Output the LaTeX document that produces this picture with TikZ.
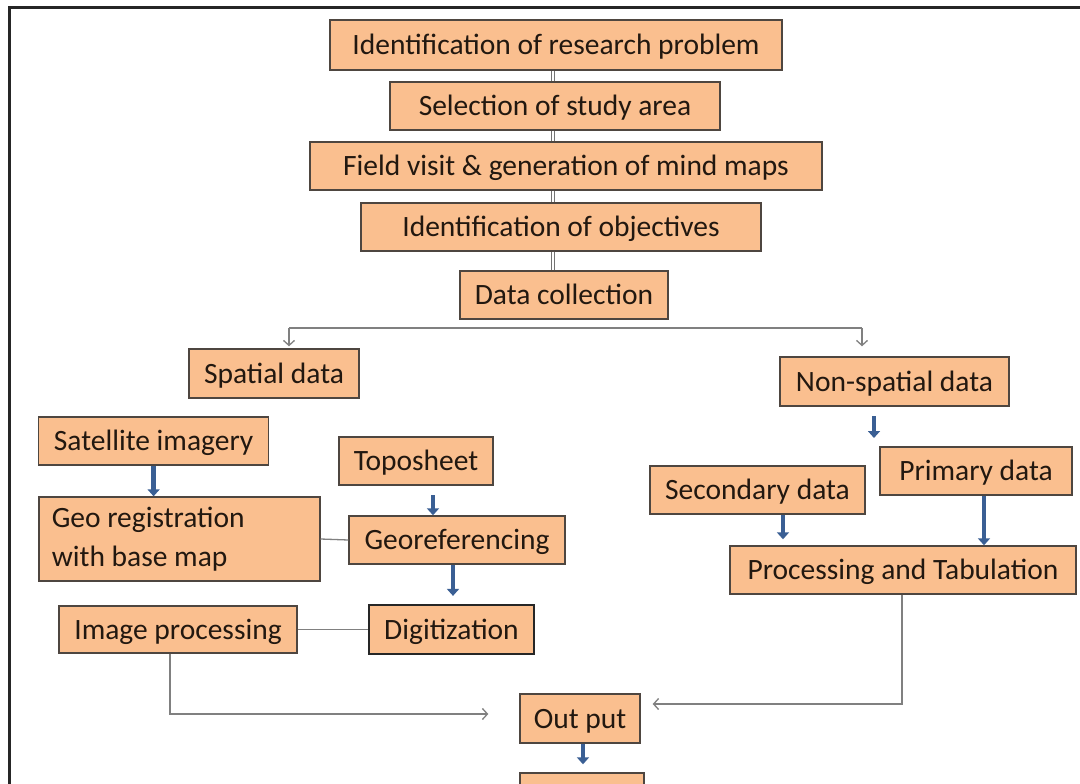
\documentclass[tikz,border=0pt]{standalone}
\usepackage{fontspec}
\setmainfont{Carlito}
\usetikzlibrary{arrows.meta}
\definecolor{boxfill}{RGB}{250,191,143}
\definecolor{boxline}{RGB}{78,70,64}
\definecolor{barrowc}{RGB}{58,95,148}
\definecolor{glinec}{RGB}{128,128,128}
\definecolor{txt}{RGB}{34,24,16}
\begin{document}
\begin{tikzpicture}[x=1pt,y=-1pt,
  box/.style={draw=boxline, line width=1.4pt, fill=boxfill, text=txt, inner sep=0pt,
    font=\fontsize{29.5}{36}\selectfont, text height=24pt, text depth=5pt},
  bx/.style 2 args={minimum width=#1pt, minimum height=#2pt},
  twoline/.style={draw=boxline, line width=1.4pt, fill=boxfill, text=txt, inner xsep=13pt, inner ysep=0pt,
    font=\fontsize{29.5}{36}\selectfont, align=left},
  strongbox/.style={box, draw=black!85, line width=2.2pt},
  dbl/.style={draw=black!55, line width=0.6pt, double=white, double distance=2pt},
  barrow/.style={draw=barrowc, line width=4.5pt, -{Triangle[width=12pt,length=7pt]}},
  glink/.style={draw=glinec, line width=1.3pt},
  garrow/.style={glink, -{Straight Barb[length=5pt,width=11pt]}}
]
\clip (0,0) rectangle (1080,784);
\fill[white] (0,0) rectangle (1080,784);
% frame
\draw[line width=2.5pt, black!85] (9.5,800) -- (9.5,7.3) -- (1100,7.3);

% main chain
\node[box, bx={452}{50}] (b1) at (556,45) {Identification of research problem};
\node[box, bx={330}{48}] (b2) at (555,106) {Selection of study area};
\node[box, bx={512}{48}] (b3) at (566,166) {Field visit \& generation of mind maps};
\node[box, bx={400}{48}] (b4) at (561,227) {Identification of objectives};
\node[box, bx={208}{48}] (b5) at (564,295) {Data collection};

\coordinate (c) at (553,0);
\draw[dbl] (b1.south -| c) -- (b2.north -| c);
\draw[dbl] (b2.south -| c) -- (b3.north -| c);
\draw[dbl] (b3.south -| c) -- (b4.north -| c);
\draw[dbl] (b4.south -| c) -- (b5.north -| c);

% branch
\node[box, bx={170}{49}] (sp) at (274,373.5) {Spatial data};
\node[box, bx={229}{49}] (ns) at (894.5,381.5) {Non-spatial data};
\coordinate (bl) at (289,328);
\coordinate (br) at (862,328);
\draw[glink] (bl) -- (br);
\draw[garrow, shorten >=2pt] (bl) -- (bl |- sp.north);
\draw[garrow, shorten >=10pt] (br) -- (br |- ns.north);

% spatial side
\node[box, bx={230}{48}] (sat) at (153.6,441) {Satellite imagery};
\node[twoline, text width=255pt, minimum height=84pt] (geo) at (179.3,539) {\spaceskip=0pt\relax\vspace{3pt}Geo registration\\with base map};
\node[box, bx={154}{48}] (topo) at (416,461) {Toposheet};
\node[box, bx={216}{48}] (georef) at (457,540) {Georeferencing};
\node[strongbox, bx={165}{49}] (dig) at (451.5,629.5) {Digitization};
\node[box, bx={238}{47}] (ip) at (178,629.5) {Image processing};

\draw[barrow] (sat.south) -- (sat.south |- geo.north);
\coordinate (ta) at (433,495);
\draw[barrow] (ta) -- (ta |- georef.north);
\coordinate (ga) at (453,0);
\draw[barrow, shorten >=8pt] (georef.south -| ga) -- (dig.north -| ga);
\draw[glink] (geo.east) -- (georef.west);
\draw[glink] (ip.east) -- (dig.west);

% non-spatial side
\node[box, bx={215}{48}] (sec) at (757.5,490) {Secondary data};
\node[box, bx={192}{48}] (prim) at (976,471) {Primary data};
\node[box, bx={346}{48}] (pt) at (903,570) {Processing and Tabulation};
\coordinate (na1) at (874,416);
\coordinate (na2) at (874,438);
\draw[barrow] (na1) -- (na2);
\coordinate (sx) at (783,0);
\coordinate (px) at (984,0);
\draw[barrow, shorten >=6pt] (sec.south -| sx) -- (pt.north -| sx);
\draw[barrow] (prim.south -| px) -- (pt.north -| px);

% output
\node[box, bx={120}{49}] (out) at (580,718.5) {Out put};
\node[box, bx={124}{54}] (bot) at (582,800) {};
\coordinate (ox) at (583,0);
\draw[barrow, shorten >=8pt] (out.south -| ox) -- (bot.north -| ox);
\coordinate (ipc) at (170,714);
\coordinate (ptc) at (902,704);
\draw[garrow, shorten >=31pt] (ip.south -| ipc) -- (ipc) -- (out.west |- ipc);
\draw[garrow, shorten >=12pt] (pt.south -| ptc) -- (ptc) -- (out.east |- ptc);
\end{tikzpicture}
\end{document}
